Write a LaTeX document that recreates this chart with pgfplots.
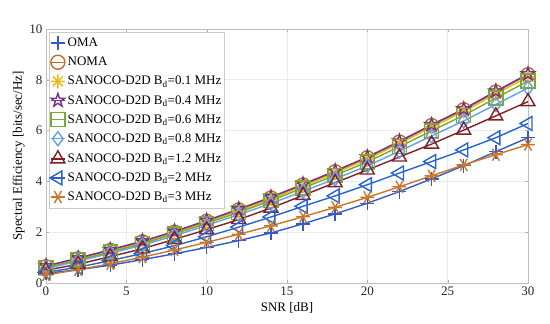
\documentclass[border=0pt]{standalone}
\usepackage{pgfplots}
\pgfplotsset{compat=1.18}
\usepackage{fontspec}
\setmainfont{Liberation Serif}
\usetikzlibrary{plotmarks}
\definecolor{cOMA}{RGB}{50,90,200}
\definecolor{cNOMA}{RGB}{190,110,40}
\definecolor{cA}{RGB}{235,185,30}
\definecolor{cB}{RGB}{120,50,140}
\definecolor{cC}{RGB}{120,170,50}
\definecolor{cD}{RGB}{100,160,235}
\definecolor{cE}{RGB}{130,30,40}
\definecolor{cF}{RGB}{40,100,205}
\definecolor{cG}{RGB}{200,120,40}
\pgfdeclareplotmark{mstar}{%
  \pgfpathmoveto{\pgfqpoint{-\pgfplotmarksize}{0pt}}\pgfpathlineto{\pgfqpoint{\pgfplotmarksize}{0pt}}%
  \pgfpathmoveto{\pgfqpoint{0pt}{-\pgfplotmarksize}}\pgfpathlineto{\pgfqpoint{0pt}{\pgfplotmarksize}}%
  \pgfpathmoveto{\pgfqpoint{-0.707\pgfplotmarksize}{-0.707\pgfplotmarksize}}\pgfpathlineto{\pgfqpoint{0.707\pgfplotmarksize}{0.707\pgfplotmarksize}}%
  \pgfpathmoveto{\pgfqpoint{-0.707\pgfplotmarksize}{0.707\pgfplotmarksize}}\pgfpathlineto{\pgfqpoint{0.707\pgfplotmarksize}{-0.707\pgfplotmarksize}}%
  \pgfusepathqstroke}
\pgfdeclareplotmark{pent}{%
  \pgfpathmoveto{\pgfpointpolar{90}{\pgfplotmarksize}}%
  \pgfpathlineto{\pgfpointpolar{126}{0.4\pgfplotmarksize}}%
  \pgfpathlineto{\pgfpointpolar{162}{\pgfplotmarksize}}%
  \pgfpathlineto{\pgfpointpolar{198}{0.4\pgfplotmarksize}}%
  \pgfpathlineto{\pgfpointpolar{234}{\pgfplotmarksize}}%
  \pgfpathlineto{\pgfpointpolar{270}{0.4\pgfplotmarksize}}%
  \pgfpathlineto{\pgfpointpolar{306}{\pgfplotmarksize}}%
  \pgfpathlineto{\pgfpointpolar{342}{0.4\pgfplotmarksize}}%
  \pgfpathlineto{\pgfpointpolar{18}{\pgfplotmarksize}}%
  \pgfpathlineto{\pgfpointpolar{54}{0.4\pgfplotmarksize}}%
  \pgfpathclose\pgfusepathqstroke}
\begin{document}
\begin{tikzpicture}
\useasboundingbox (-46pt,-41pt) rectangle (504pt,283pt);
\begin{axis}[
  at={(0pt,0pt)}, anchor=south west,
  scale only axis, width=482pt, height=254pt,
  xmin=0, xmax=30, ymin=0, ymax=10,
  xtick={0,5,...,30}, ytick={0,2,...,10},
  /pgf/number format/assume math mode=true,
  tick label style={font=\fontsize{13}{15}\selectfont, text=black!85},
  label style={font=\fontsize{13}{15}\selectfont},
  xlabel={SNR [dB]}, ylabel={Spectral Efficiency [bits/sec/Hz]},
  xlabel style={yshift=0pt}, ylabel style={yshift=-2pt},
  grid=major, major grid style={black!8, line width=0.6pt},
  axis line style={black!25, line width=0.6pt},
  tick style={black!30}, tick align=inside, major tick length=3pt,
  every axis plot/.append style={line width=1.4pt, mark size=7pt, mark options={solid, line width=1.4pt}},
  legend cell align=left,
  legend style={at={(0.006,0.988)}, anchor=north west, font=\fontsize{13}{15}\selectfont,
    draw=black!20, fill=white, inner xsep=1pt, inner ysep=4pt, row sep=5pt, outer sep=0pt},
  legend image code/.code={\draw[mark repeat=2,mark phase=2] plot coordinates {(0cm,0cm)(0.25cm,0cm)(0.5cm,0cm)};},
]
\addplot[color=cOMA, mark=+] coordinates {(0,0.38)(2,0.52)(4,0.70)(6,0.92)(8,1.15)(10,1.40)(12,1.67)(14,1.97)(16,2.33)(18,2.72)(20,3.14)(22,3.60)(24,4.10)(26,4.62)(28,5.17)(30,5.72)};
\addlegendentry{OMA}
\addplot[color=cNOMA, mark=o] coordinates {(0,0.64)(2,0.95)(4,1.28)(6,1.62)(8,2.00)(10,2.43)(12,2.88)(14,3.35)(16,3.86)(18,4.38)(20,4.93)(22,5.55)(24,6.20)(26,6.82)(28,7.52)(30,8.20)};
\addlegendentry{NOMA}
\addplot[color=cA, mark=mstar] coordinates {(0,0.61)(2,0.91)(4,1.24)(6,1.58)(8,1.96)(10,2.39)(12,2.83)(14,3.30)(16,3.81)(18,4.33)(20,4.87)(22,5.49)(24,6.13)(26,6.75)(28,7.44)(30,8.12)};
\addlegendentry{SANOCO-D2D B\textsubscript{d}=0.1 MHz}
\addplot[color=cB, mark=pent] coordinates {(0,0.67)(2,0.98)(4,1.31)(6,1.65)(8,2.03)(10,2.46)(12,2.91)(14,3.38)(16,3.89)(18,4.41)(20,4.96)(22,5.58)(24,6.23)(26,6.85)(28,7.55)(30,8.23)};
\addlegendentry{SANOCO-D2D B\textsubscript{d}=0.4 MHz}
\addplot[color=cC, mark=square] coordinates {(0,0.60)(2,0.90)(4,1.22)(6,1.55)(8,1.93)(10,2.35)(12,2.78)(14,3.24)(16,3.74)(18,4.24)(20,4.77)(22,5.37)(24,5.99)(26,6.60)(28,7.28)(30,7.95)};
\addlegendentry{SANOCO-D2D B\textsubscript{d}=0.6 MHz}
\addplot[color=cD, mark=diamond] coordinates {(0,0.57)(2,0.86)(4,1.17)(6,1.49)(8,1.86)(10,2.27)(12,2.69)(14,3.13)(16,3.61)(18,4.10)(20,4.61)(22,5.19)(24,5.79)(26,6.38)(28,7.03)(30,7.68)};
\addlegendentry{SANOCO-D2D B\textsubscript{d}=0.8 MHz}
\addplot[color=cE, mark=triangle, mark size=8pt] coordinates {(0,0.50)(2,0.74)(4,1.04)(6,1.35)(8,1.72)(10,2.10)(12,2.50)(14,2.95)(16,3.45)(18,3.95)(20,4.45)(22,4.96)(24,5.47)(26,6.02)(28,6.58)(30,7.14)};
\addlegendentry{SANOCO-D2D B\textsubscript{d}=1.2 MHz}
\addplot[color=cF, mark=triangle, mark size=8pt, mark options={rotate=90}] coordinates {(0,0.42)(2,0.62)(4,0.88)(6,1.16)(8,1.47)(10,1.82)(12,2.20)(14,2.60)(16,3.02)(18,3.43)(20,3.87)(22,4.33)(24,4.78)(26,5.24)(28,5.72)(30,6.28)};
\addlegendentry{SANOCO-D2D B\textsubscript{d}=2 MHz}
\addplot[color=cG, mark=asterisk, mark options={rotate=90}] coordinates {(0,0.32)(2,0.52)(4,0.76)(6,1.02)(8,1.30)(10,1.60)(12,1.92)(14,2.25)(16,2.61)(18,2.98)(20,3.37)(22,3.79)(24,4.22)(26,4.65)(28,5.05)(30,5.45)};
\addlegendentry{SANOCO-D2D B\textsubscript{d}=3 MHz}
\end{axis}
\end{tikzpicture}
\end{document}
